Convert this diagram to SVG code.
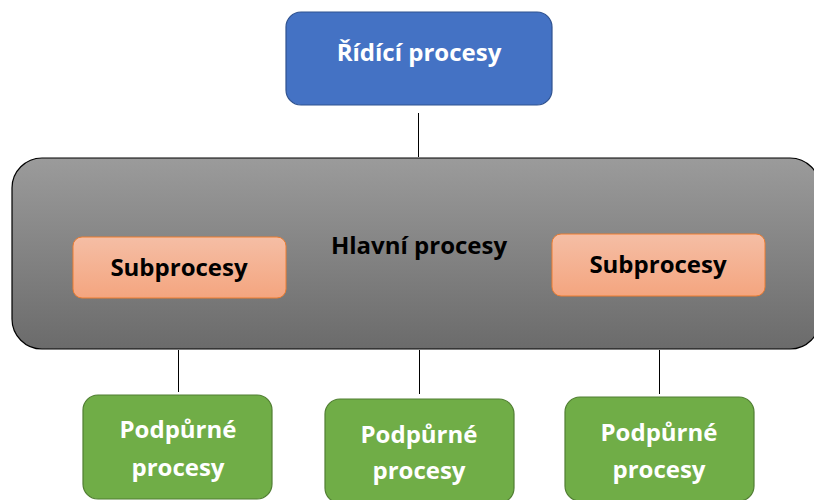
<svg xmlns="http://www.w3.org/2000/svg" width="814" height="500" viewBox="0 0 814 500">
  <defs>
    <linearGradient id="grayFill" x1="0" y1="0" x2="0" y2="1">
      <stop offset="0" stop-color="#9b9b9b"/>
      <stop offset="1" stop-color="#6b6b6b"/>
    </linearGradient>
    <linearGradient id="salmonFill" x1="0" y1="0" x2="0" y2="1">
      <stop offset="0" stop-color="#f5bea5"/>
      <stop offset="1" stop-color="#f4a57f"/>
    </linearGradient>
  </defs>
  <style>
    text { font-family: "Open Sans", "Liberation Sans", sans-serif; font-weight: bold; text-anchor: middle; font-size: 24px; }
    .lbl-w { fill: #ffffff; }
    .lbl-k { fill: #000000; }
    .conn { stroke: #000000; stroke-width: 1; fill: none; }
    .blue { fill: #4472c4; stroke: #2f528f; stroke-width: 1.2; }
    .main { fill: url(#grayFill); stroke: #000000; stroke-width: 1.2; }
    .sub { fill: url(#salmonFill); stroke: #ed7d31; stroke-width: 1; }
    .green { fill: #70ad47; stroke: #507e32; stroke-width: 1.2; }
  </style>

  <g id="connectors">
    <line class="conn" x1="418.5" y1="113" x2="418.5" y2="157"/>
    <line class="conn" x1="178.5" y1="350" x2="178.5" y2="392"/>
    <line class="conn" x1="419.5" y1="350" x2="419.5" y2="394"/>
    <line class="conn" x1="659.5" y1="350" x2="659.5" y2="394"/>
  </g>

  <g id="ridici">
    <rect class="blue" x="286" y="12" width="266" height="93" rx="15"/>
    <text class="lbl-w" x="419" y="61">Řídící procesy</text>
  </g>

  <g id="hlavni">
    <rect class="main" x="12" y="158" width="808" height="191" rx="30"/>
    <text class="lbl-k" x="419" y="254">Hlavní procesy</text>
  </g>

  <g id="sub-left">
    <rect class="sub" x="73" y="237" width="213" height="61" rx="9"/>
    <text class="lbl-k" x="179" y="276">Subprocesy</text>
  </g>

  <g id="sub-right">
    <rect class="sub" x="552" y="234" width="213" height="62" rx="9"/>
    <text class="lbl-k" x="658" y="273">Subprocesy</text>
  </g>

  <g id="podp-left">
    <rect class="green" x="83" y="395" width="189" height="104" rx="15"/>
    <text class="lbl-w" x="178" y="438">Podpůrné</text>
    <text class="lbl-w" x="178" y="476">procesy</text>
  </g>

  <g id="podp-mid">
    <rect class="green" x="325" y="399" width="189" height="104" rx="15"/>
    <text class="lbl-w" x="419" y="443">Podpůrné</text>
    <text class="lbl-w" x="419" y="479">procesy</text>
  </g>

  <g id="podp-right">
    <rect class="green" x="565" y="397" width="189" height="104" rx="15"/>
    <text class="lbl-w" x="659" y="441">Podpůrné</text>
    <text class="lbl-w" x="659" y="478">procesy</text>
  </g>
</svg>
